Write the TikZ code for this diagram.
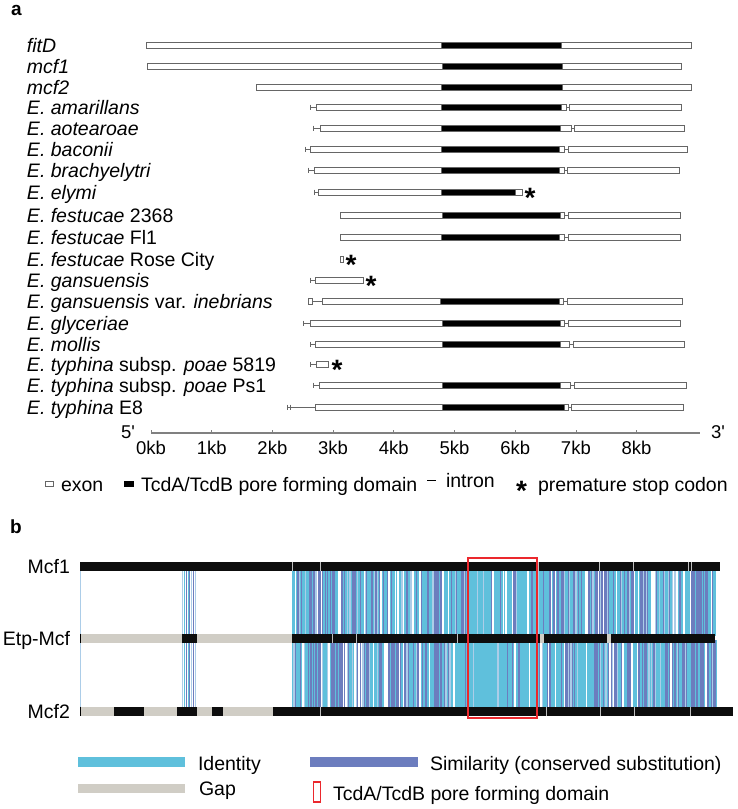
\documentclass[tikz,border=0pt]{standalone}
\usepackage{fontspec}
\setmainfont{Liberation Sans}
\usetikzlibrary{positioning}

\definecolor{idcol}{RGB}{95,192,220}
\definecolor{simcol}{RGB}{108,125,190}
\definecolor{palecol}{RGB}{172,205,232}
\definecolor{gapcol}{RGB}{208,205,197}
\definecolor{poreline}{RGB}{235,40,45}

% gene model pieces: from, to, y
\newcommand{\exonbox}[3]{\draw[exon] (#1,#3-3) rectangle (#2,#3+3);}
\newcommand{\porebox}[3]{\draw[porefill] (#1,#3-3) rectangle (#2,#3+3);}
\newcommand{\intronline}[3]{\draw[intron] (#1,#3) -- (#2,#3);}
\newcommand{\exontick}[2]{\draw[intron] (#1,#2-2.5) -- (#1,#2+2.5);}

\begin{document}
\begin{tikzpicture}[
    x=1pt, y=-1pt,
    every node/.style={inner sep=0pt, outer sep=0pt},
    genelabel/.style={anchor=base west, font=\fontsize{19.5}{22}\selectfont},
    seqlabel/.style={anchor=base east, font=\fontsize{19.5}{22}\selectfont},
    legtext/.style={anchor=base west, font=\fontsize{19.5}{22}\selectfont},
    kblabel/.style={anchor=base, font=\fontsize{18.5}{20}\selectfont},
    panel/.style={anchor=base west, font=\fontsize{19}{21}\bfseries},
    stopmark/.style={anchor=base, font=\fontsize{28}{28}\bfseries},
    exon/.style={draw=black!60, fill=white, line width=0.8pt},
    porefill/.style={draw=black!60, fill=black, line width=0.8pt},
    intron/.style={draw=black!60, line width=0.8pt},
    axisline/.style={draw=black!50, line width=1.2pt},
    seqbar/.style={fill=black!95},
    gapbar/.style={fill=gapcol},
    sepline/.style={draw=black!25, line width=0.7pt},
    poreframe/.style={draw=poreline, line width=1.4pt}
  ]
  \useasboundingbox (0,0) rectangle (738,809);

  % ---------------- panel a ----------------
  \node[panel] (pa) at (11,15) {a};

  % labels
  \node[genelabel] (l-fitd) at (27,52) {\textit{fitD}};
  \node[genelabel] (l-mcf1) at (27,73) {\textit{mcf1}};
  \node[genelabel] (l-mcf2) at (27,94) {\textit{mcf2}};
  \node[genelabel] (l-amar) at (27,114) {\textit{E. amarillans}};
  \node[genelabel] (l-aote) at (27,135) {\textit{E. aotearoae}};
  \node[genelabel] (l-baco) at (27,156) {\textit{E. baconii}};
  \node[genelabel] (l-brac) at (27,177) {\textit{E. brachyelytri}};
  \node[genelabel] (l-elym) at (27,199) {\textit{E. elymi}};
  \node[genelabel] (l-fe68) at (27,222) {\textit{E. festucae} 2368};
  \node[genelabel] (l-fefl) at (27,244) {\textit{E. festucae} Fl1};
  \node[genelabel] (l-fero) at (27,266) {\textit{E. festucae} Rose City};
  \node[genelabel] (l-gans) at (27,287) {\textit{E. gansuensis}};
  \node[genelabel] (l-ineb) at (27,308) {\textit{E. gansuensis} var. \textit{inebrians}};
  \node[genelabel] (l-glyc) at (27,330) {\textit{E. glyceriae}};
  \node[genelabel] (l-moll) at (27,351) {\textit{E. mollis}};
  \node[genelabel] (l-ty58) at (27,371) {\textit{E. typhina} subsp. \textit{poae} 5819};
  \node[genelabel] (l-typs) at (27,392) {\textit{E. typhina} subsp. \textit{poae} Ps1};
  \node[genelabel] (l-tye8) at (27,414) {\textit{E. typhina} E8};

  % gene models
  \exonbox{146}{691}{45} \porebox{441}{561}{45}
  \exonbox{147}{681}{66} \porebox{442}{562}{66}
  \exonbox{256}{691}{87} \porebox{441}{562}{87}
  % E. amarillans
  \exontick{310}{107} \intronline{310}{316}{107}
  \exonbox{316}{566}{107} \porebox{441}{561}{107}
  \intronline{566}{569}{107} \exonbox{569}{681}{107}
  % E. aotearoae
  \exontick{313}{128} \intronline{313}{320}{128}
  \exonbox{320}{571}{128} \porebox{441}{560}{128}
  \intronline{571}{574}{128} \exonbox{574}{684}{128}
  % E. baconii
  \exontick{305}{149} \intronline{305}{310}{149}
  \exonbox{310}{564}{149} \porebox{441}{559}{149}
  \intronline{564}{568}{149} \exonbox{568}{687}{149}
  % E. brachyelytri
  \exontick{308}{170} \intronline{308}{314}{170}
  \exonbox{314}{564}{170} \porebox{441}{559}{170}
  \intronline{564}{567}{170} \exonbox{567}{679}{170}
  % E. elymi
  \exontick{314}{192} \intronline{314}{318}{192}
  \exonbox{318}{522}{192} \porebox{441}{515}{192}
  \node[stopmark] (s-elym) at (530,207) {*};
  % E. festucae 2368
  \exonbox{340}{564}{215} \porebox{442}{560}{215}
  \intronline{564}{568}{215} \exonbox{568}{680}{215}
  % E. festucae Fl1
  \exonbox{340}{564}{237} \porebox{441}{559}{237}
  \intronline{564}{568}{237} \exonbox{568}{680}{237}
  % E. festucae Rose City
  \exonbox{340}{343}{259}
  \node[stopmark] (s-fero) at (351,274) {*};
  % E. gansuensis
  \exontick{310}{280} \intronline{310}{315}{280}
  \exonbox{315}{363}{280}
  \node[stopmark] (s-gans) at (371,295) {*};
  % E. gansuensis var. inebrians
  \exonbox{308}{312}{301} \intronline{312}{322}{301}
  \exonbox{322}{563}{301} \porebox{440}{559}{301}
  \intronline{563}{567}{301} \exonbox{567}{682}{301}
  % E. glyceriae
  \exontick{303}{323} \intronline{303}{310}{323}
  \exonbox{310}{564}{323} \porebox{442}{560}{323}
  \intronline{564}{568}{323} \exonbox{568}{680}{323}
  % E. mollis
  \exontick{310}{344} \intronline{310}{315}{344}
  \exonbox{315}{569}{344} \porebox{442}{560}{344}
  \intronline{569}{573}{344} \exonbox{573}{684}{344}
  % E. typhina subsp. poae 5819
  \exontick{310}{364} \intronline{310}{316}{364}
  \exonbox{316}{328}{364}
  \node[stopmark] (s-ty58) at (337,379) {*};
  % E. typhina subsp. poae Ps1
  \exontick{313}{385} \intronline{313}{319}{385}
  \exonbox{319}{570}{385} \porebox{442}{560}{385}
  \intronline{570}{574}{385} \exonbox{574}{686}{385}
  % E. typhina E8
  \exontick{287}{407} \exontick{290}{407} \intronline{287}{315}{407}
  \exonbox{315}{568}{407} \porebox{442}{564}{407}
  \intronline{568}{571}{407} \exonbox{571}{683}{407}

  % scale
  \coordinate (ax0) at (151,433);
  \coordinate (ax1) at (700,433);
  \draw[axisline] (ax0) -- (ax1);
  \foreach \k in {0,...,8}{
    \draw[axisline, line width=0.8pt] (151+60.7*\k,433) -- ++(0,-3);
    \node[kblabel] (kb\k) at (151+60.7*\k,454) {\k kb};
  }
  \node[kblabel, anchor=east] (five) at (135,432) {5\textquotesingle};
  \node[kblabel, anchor=west] (three) at (711,432) {3\textquotesingle};

  % legend a
  \draw[exon] (45,481) rectangle (53,486.5);
  \node[legtext] (t-exon) at (61,491) {exon};
  \fill (124,480.5) rectangle (134,486.5);
  \node[legtext] (t-pore) at (141,491) {TcdA/TcdB pore forming domain};
  \draw[black, line width=0.9pt] (427,480.5) -- (436,480.5);
  \node[legtext] (t-intr) at (446,487) {intron};
  \node[stopmark] (t-star) at (521.5,500) {*};
  \node[legtext] (t-stop) at (538,491) {premature stop codon};

  % ---------------- panel b ----------------
  \node[panel] (pb) at (10,533) {b};

  % alignment stripes, upper and lower band
  \pgfmathsetseed{4321}
  \foreach \ylo/\yhi/\xend in {568/636/715, 640/709/717}{
    \foreach \xx in {292,293.3,...,\xend}{
      \pgfmathtruncatemacro{\rr}{random(1,100)}
      \pgfmathtruncatemacro{\ta}{((\xx>468)&&(\xx<537)) ? 84 : 46}
      \pgfmathtruncatemacro{\tb}{((\xx>468)&&(\xx<537)) ? 91 : 77}
      \pgfmathtruncatemacro{\tc}{((\xx>468)&&(\xx<537)) ? 96 : 89}
      \ifnum\rr<\ta\relax \def\stripecol{idcol}%
      \else\ifnum\rr<\tb\relax \def\stripecol{simcol}%
      \else\ifnum\rr<\tc\relax \def\stripecol{palecol}%
      \else \def\stripecol{white}\fi\fi\fi
      \fill[\stripecol] (\xx,\ylo) rectangle ++(1.4,\yhi-\ylo);
    }
    \foreach \xx/\sc in {182/palecol,184/idcol,185.5/simcol,187.5/idcol,189/simcol,191/palecol,193/simcol,195/palecol}{
      \fill[\sc] (\xx,\ylo) rectangle ++(1.3,\yhi-\ylo);
    }
  }
  \draw[palecol, line width=1pt] (80.5,568) -- (80.5,709);

  % Mcf1
  \fill[seqbar] (80,561.5) rectangle (720,570.5);
  \foreach \sx in {292,320,538,599,633,688,691}
    \draw[sepline] (\sx,561.5) -- (\sx,570.5);
  \node[seqlabel] (m1) at (70,573) {Mcf1};

  % Etp-Mcf
  \fill[gapbar] (80,633.5) rectangle (182,642.5);
  \fill[seqbar] (182,633.5) rectangle (197,642.5);
  \fill[gapbar] (197,633.5) rectangle (292,642.5);
  \fill[seqbar] (292,633.5) rectangle (715,642.5);
  \fill[gapbar] (539.5,633.5) rectangle (543.5,642.5);
  \fill[gapbar] (607,633.5) rectangle (610.5,642.5);
  \foreach \sx in {332,356,457}
    \draw[sepline] (\sx,633.5) -- (\sx,642.5);
  \draw[black, line width=1pt] (80.5,633.5) -- (80.5,642.5);
  \node[seqlabel] (etp) at (70,645) {Etp-Mcf};

  % Mcf2
  \fill[gapbar] (81,706.5) rectangle (273,715.5);
  \foreach \ga/\gb in {114/144,177/197,212/223}
    \fill[seqbar] (\ga,706.5) rectangle (\gb,715.5);
  \fill[seqbar] (273,706.5) rectangle (733,715.5);
  \foreach \sx in {320,546,600,634,690}
    \draw[sepline] (\sx,706.5) -- (\sx,715.5);
  \draw[black, line width=1pt] (80.5,706.5) -- (80.5,715.5);
  \node[seqlabel] (m2) at (70,718) {Mcf2};

  % pore forming domain frame
  \draw[poreframe] (468,558) rectangle (537,718);

  % legend b
  \fill[idcol] (78,757) rectangle (185,767);
  \node[legtext] (t-iden) at (198,770) {Identity};
  \fill[gapcol] (78,784) rectangle (185,793);
  \node[legtext] (t-gap) at (199,795) {Gap};
  \fill[simcol] (310,757) rectangle (418,767);
  \node[legtext] (t-simi) at (430,770) {Similarity (conserved substitution)};
  \draw[poreframe, line width=1.2pt] (313.5,782) rectangle (320.5,802);
  \node[legtext] (t-domb) at (333,800) {TcdA/TcdB pore forming domain};
\end{tikzpicture}
\end{document}
